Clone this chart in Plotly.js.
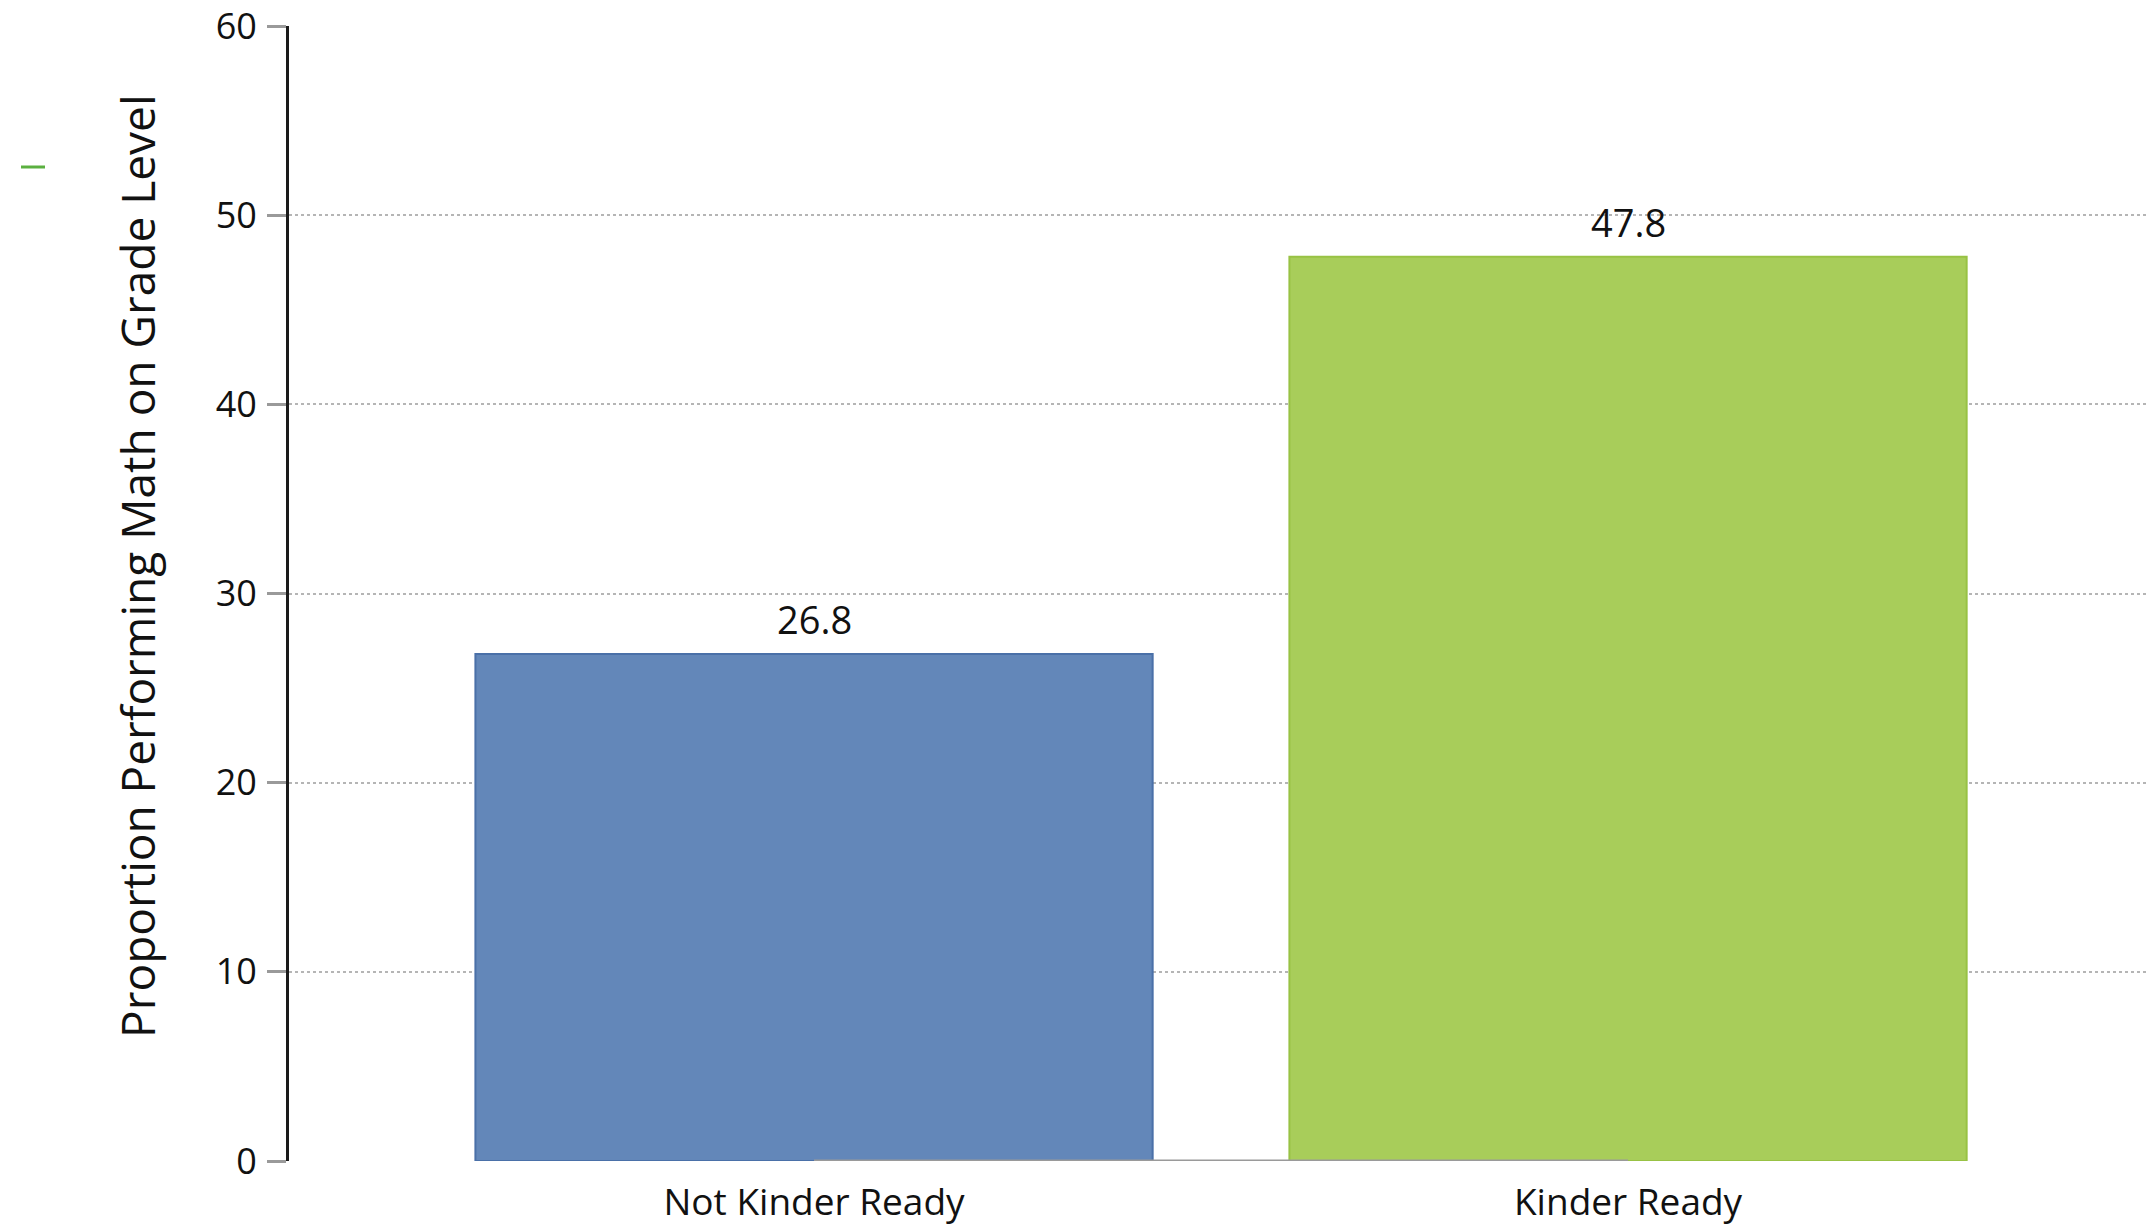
<!DOCTYPE html>
<html>
<head>
<meta charset="utf-8">
<script src="https://cdn.plot.ly/plotly-3.0.1.min.js"></script>
<style>
  html, body { margin: 0; padding: 0; background: #ffffff; }
  #chart { width: 2149px; height: 1225px; }
</style>
</head>
<body>
<div id="chart"></div>
<script>
// Share of students performing math on grade level, by kindergarten readiness
const categories = ["Not Kinder Ready", "Kinder Ready"];
const proportions = [26.8, 47.8];
const barColors = ["#6387b9", "#a8cd5a"];
const barEdgeColors = ["#4a70a8", "#98c244"];
const yTickValues = [0, 10, 20, 30, 40, 50, 60];
const yTickLabels = ["0", "10", "20", "30", "40", "50", "60"];
const gridValues = [0, 10, 20, 30, 40, 50];
const yTitle = "Proportion Performing Math on Grade Level";

const W = 2149, H = 1225;
const margin = { l: 289, r: 0, t: 26, b: 64, pad: 0 };
const plotW = W - margin.l - margin.r;
const plotH = H - margin.t - margin.b;
const toPaperX = px => (px - margin.l) / plotW;
const toPaperY = py => (H - margin.b - py) / plotH;

const FONT = "Open Sans, Lato, sans-serif";

const bars = {
  type: "bar",
  x: categories,
  y: proportions,
  marker: { color: barColors, line: { color: barEdgeColors, width: 2 } },
  hoverinfo: "skip",
  showlegend: false
};

// grey baseline joining the two bar centres (lives on the labelled axis)
const baseline = {
  type: "scatter",
  mode: "lines",
  x: categories,
  y: categories.map(() => 0),
  yaxis: "y2",
  line: { color: "#9a9a9a", width: 3 },
  cliponaxis: false,
  hoverinfo: "skip",
  showlegend: false
};

// value labels above each bar
const valueLabels = categories.map((c, i) => ({
  x: c,
  y: proportions[i],
  xref: "x",
  yref: "y",
  text: proportions[i].toFixed(1),
  showarrow: false,
  yanchor: "bottom",
  yshift: 7,
  font: { family: FONT, size: 38, color: "#111111" }
}));

const layout = {
  width: W,
  height: H,
  margin: margin,
  paper_bgcolor: "#ffffff",
  plot_bgcolor: "#ffffff",
  bargap: 0.168,
  showlegend: false,
  xaxis: {
    type: "category",
    range: [-0.645, 1.64],
    showline: false,
    showgrid: false,
    zeroline: false,
    ticks: "",
    ticklabelstandoff: 16,
    tickfont: { family: FONT, size: 37, color: "#111111" },
    fixedrange: true
  },
  // dotted horizontal guides
  yaxis: {
    range: [0, 60],
    tickmode: "array",
    tickvals: gridValues,
    showticklabels: false,
    ticks: "",
    showgrid: true,
    gridcolor: "#b5b5b5",
    griddash: "dot",
    gridwidth: 2,
    zeroline: false,
    showline: false,
    fixedrange: true
  },
  // visible value axis with ticks and labels
  yaxis2: {
    overlaying: "y",
    side: "left",
    range: [0, 60],
    tickmode: "array",
    tickvals: yTickValues,
    ticktext: yTickLabels,
    ticks: "outside",
    ticklen: 19,
    tickwidth: 3,
    tickcolor: "#9a9a9a",
    showline: true,
    linecolor: "#1a1a1a",
    linewidth: 3,
    showgrid: false,
    zeroline: false,
    ticklabelstandoff: 3,
    ticklabeloverflow: "allow",
    tickfont: { family: FONT, size: 36, color: "#111111" },
    fixedrange: true
  },
  annotations: valueLabels.concat([{
    xref: "paper",
    yref: "paper",
    x: toPaperX(137),
    y: toPaperY(566),
    text: yTitle,
    textangle: -90,
    showarrow: false,
    xanchor: "center",
    yanchor: "middle",
    font: { family: FONT, size: 46, color: "#111111" }
  }]),
  shapes: [{
    type: "line",
    xref: "paper",
    yref: "paper",
    x0: toPaperX(21),
    x1: toPaperX(45),
    y0: toPaperY(167),
    y1: toPaperY(167),
    line: { color: "#5bb040", width: 3 }
  }]
};

Plotly.newPlot("chart", [bars, baseline], layout, { displayModeBar: false, staticPlot: true });
</script>
</body>
</html>
